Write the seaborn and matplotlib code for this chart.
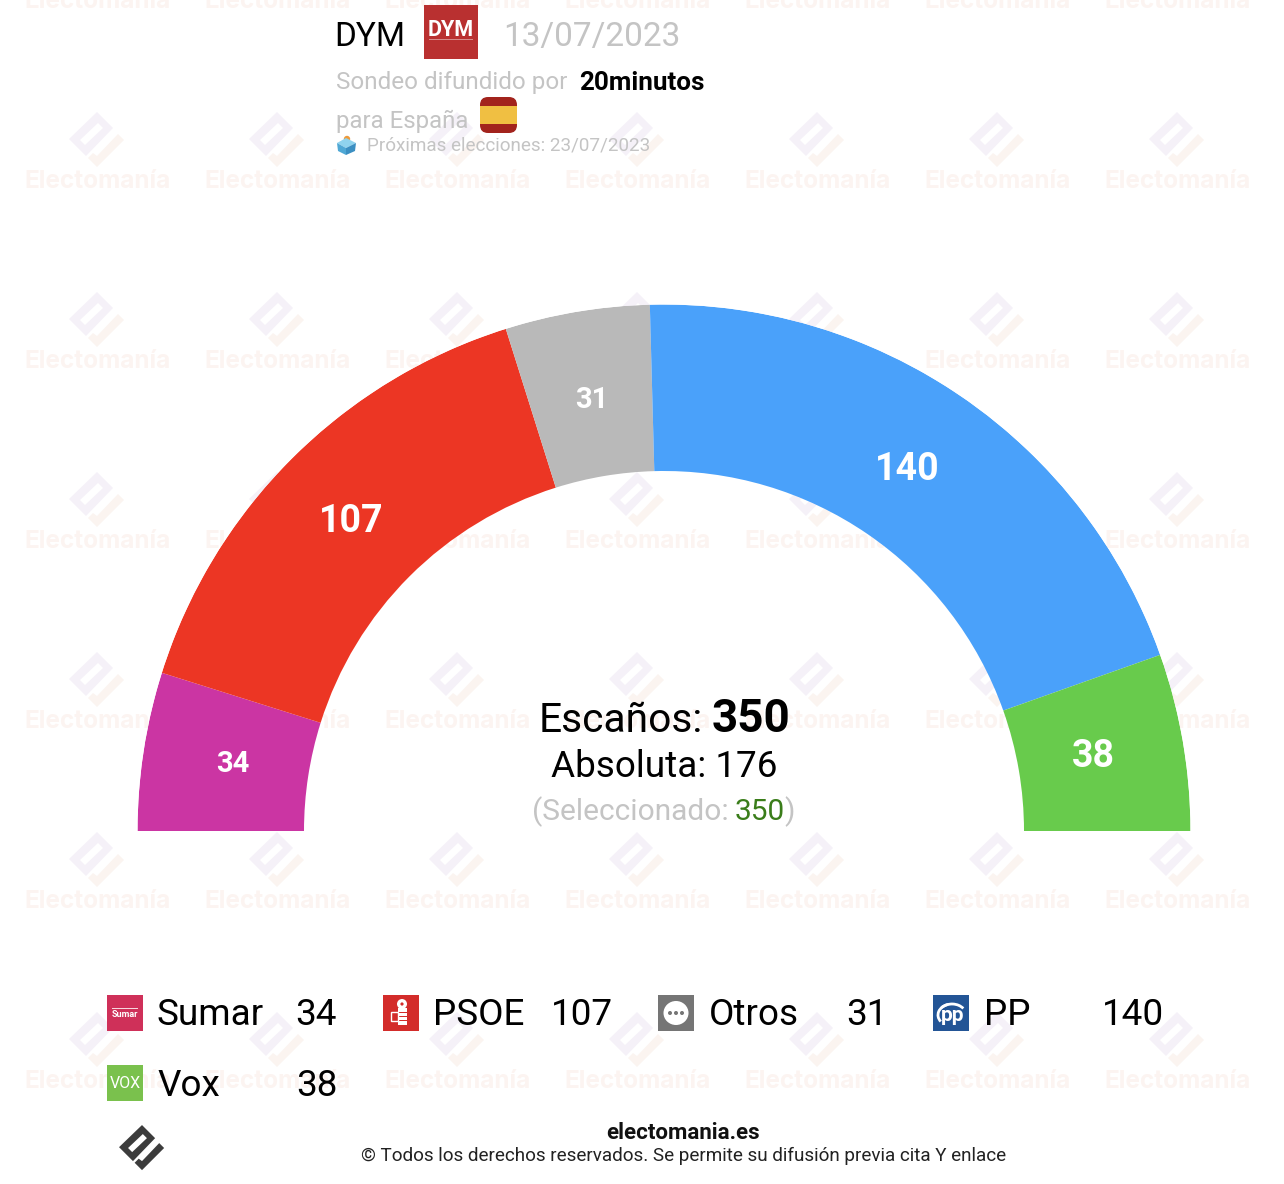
import numpy as np
import matplotlib
matplotlib.use("Agg")
import matplotlib.pyplot as plt
from matplotlib.patches import Polygon, Rectangle, Circle, FancyBboxPatch, Ellipse, Arc
import seaborn as sns

# ---- data ----
parties = ["Sumar", "PSOE", "Otros", "PP", "Vox"]
seats = [34, 107, 31, 140, 38]
seat_colors = ["#CB35A3", "#EC3624", "#B9B9B9", "#4AA1FA", "#68CB4C"]
icon_colors = ["#CF3059", "#D32C2A", "#757575", "#235596", "#7AC14D"]
total_seats = 350
majority = 176
selected = 350
pollster = "DYM"
poll_date = "13/07/2023"
media = "20minutos"
next_election = "23/07/2023"

sns.set_theme(style="white", font="Roboto")
plt.rcParams["font.family"] = ["Roboto", "DejaVu Sans"]
palette = sns.color_palette(seat_colors)

W, H = 1284, 1184
fig = plt.figure(figsize=(W / 100, H / 100), dpi=100, facecolor="white")


def pixel_axes(z):
    a = fig.add_axes([0, 0, 1, 1], zorder=z)
    a.set_xlim(0, W)
    a.set_ylim(H, 0)
    a.axis("off")
    a.patch.set_alpha(0)
    return a


bg = pixel_axes(0)
top = pixel_axes(2)

# ---- logo shape (rotated document + check mark), relative to its centre ----
DOC = np.array([[0, -28], [16, -12], [-11, 16], [-28, -1]], float)
SLOT = np.array([[1, -17], [6, -12], [-12, 5], [-17, 0]], float)
CHECK = np.array([[21, -6], [27, 0], [0, 27], [-9, 18], [-4, 13], [0, 16]], float)


def logo(a, cx, cy, s, c_doc, c_check, z=1):
    a.add_patch(Polygon(DOC * s + (cx, cy), fc=c_doc, ec="none", zorder=z))
    a.add_patch(Polygon(SLOT * s + (cx, cy), fc="white", ec="none", zorder=z))
    a.add_patch(Polygon(CHECK * s + (cx, cy), fc=c_check, ec="none", zorder=z))


# ---- watermark ----
for wx in range(97, 1284, 180):
    for wy in range(0, 1184, 180):
        logo(bg, wx, wy - 40, 1, "#F5F1F8", "#FBF4F0")
        bg.text(wx, wy + 2, "Electomanía", fontsize=17.5, family="Inter", weight="bold",
                color="#FCF4F1", ha="center", va="center")

# ---- hemicycle ----
ax = fig.add_axes([137.5 / W, (H - 1357.5) / H, 1053 / W, 1053 / H], polar=True, zorder=1)
ax.patch.set_alpha(0)
ax.set_theta_zero_location("W")
ax.set_theta_direction(-1)
ax.set_ylim(0, 526.5)
ax.grid(False)
ax.set_xticks([])
ax.set_yticks([])
ax.spines["polar"].set_visible(False)

edges = np.cumsum([0] + seats) / total_seats * np.pi
label_sizes = [21, 27, 21, 27, 27]
label_shift = [(2, 0), (-3, 0), (0, -1), (-5, 0), (-2, 0)]
for i, v in enumerate(seats):
    ax.bar(edges[i], 166.5, width=edges[i + 1] - edges[i], bottom=360, align="edge",
           color=palette[i], linewidth=0)
    ax.annotate(str(v), ((edges[i] + edges[i + 1]) / 2, 438),
                xytext=(label_shift[i][0] * 0.72, label_shift[i][1] * 0.72),
                textcoords="offset points", color="white", weight="bold",
                fontsize=label_sizes[i], ha="center", va="center")

# ---- header ----
GREY = "#C4C4C4"
top.text(334, 37, pollster, fontsize=24, color="black", va="center")
top.add_patch(Rectangle((424, 5), 54, 54, fc="#B93030", ec="none"))
top.text(451, 30, pollster, fontsize=15.5, weight="bold", color="white", ha="center", va="center")
top.add_patch(Rectangle((429, 39), 44, 1.2, fc="#D88A8A", ec="none"))
top.text(503, 37, poll_date, fontsize=24, color=GREY, va="center")
top.text(336, 83, "Sondeo difundido por", fontsize=17.5, color=GREY, va="center")
top.text(579.5, 83, media, fontsize=18.7, weight="bold", color="black", va="center")
top.text(336, 121, "para España", fontsize=17.3, color=GREY, va="center")
top.add_patch(FancyBboxPatch((484, 101), 29, 28, boxstyle="round,pad=4,rounding_size=8",
                             fc="#A2231D", ec="none"))
top.add_patch(Rectangle((480, 106), 37, 18, fc="#F0BF42", ec="none"))
top.add_patch(Circle((347, 139), 3.2, fc="#EE9A3A", ec="none"))
top.add_patch(Polygon([[337, 143], [346, 138], [356, 143], [346, 148]], fc="#8FD3EE", ec="none"))
top.add_patch(Polygon([[337, 143], [346, 148], [346, 155], [338, 151]], fc="#4FA8D5", ec="none"))
top.add_patch(Polygon([[346, 148], [356, 143], [355, 151], [346, 155]], fc="#3B8FC2", ec="none"))
top.text(367, 145.5, f"Próximas elecciones: {next_election}", fontsize=13.6, color=GREY, va="center")

# ---- centre ----
top.text(538.5, 720, "Escaños:", fontsize=29.3, color="black", va="center")
top.text(711.5, 719, str(total_seats), fontsize=33, weight="bold", color="black", va="center")
top.text(664, 767, f"Absoluta: {majority}", fontsize=26.6, color="black", ha="center", va="center")
top.text(532, 812, "(Seleccionado:", fontsize=21.5, color=GREY, va="center")
top.text(735, 812, str(selected), fontsize=21.5, color="#3A7D1A", va="center")
top.text(784, 812, ")", fontsize=21.5, color=GREY, va="center")

# ---- legend ----
icon_x = [107, 383, 658, 933, 107]
name_x = [157, 433, 708.5, 984, 157]
val_x = [295.5, 551, 846.5, 1101.5, 296]
row_y = [1013, 1013, 1013, 1013, 1083]
for i, p in enumerate(parties):
    y = row_y[i]
    x0 = icon_x[i]
    top.add_patch(Rectangle((x0, y - 18), 36, 36, fc=icon_colors[i], ec="none"))
    top.text(name_x[i], y + 2 + (i == 4), p, fontsize=26.6, color="black", va="center")
    top.text(val_x[i], y + 2 + (i == 4), str(seats[i]), fontsize=26.6, color="black", va="center")
    cx, cy = x0 + 18, y
    if p == "Sumar":
        top.add_patch(Rectangle((cx - 13, cy - 5), 26, 1, fc="#F6D5DD", ec="none"))
        top.text(cx, cy + 1.5, "Sumar", fontsize=6.5, weight="bold", color="white", ha="center", va="center")
    elif p == "PSOE":
        top.add_patch(Circle((cx + 1, cy - 9), 5, fc="white", ec="none"))
        top.add_patch(Circle((cx + 1, cy - 9), 1.6, fc="#D32C2A", ec="none"))
        top.add_patch(Rectangle((cx - 3, cy - 5), 9, 17, fc="white", ec="none"))
        for dy in (-1, 3, 7):
            top.add_patch(Rectangle((cx - 3, cy + dy), 9, 0.8, fc="#D32C2A", ec="none"))
        top.add_patch(Rectangle((cx - 10, cy - 1), 7, 9, fc="#D32C2A", ec="white", lw=1))
    elif p == "Otros":
        top.add_patch(Ellipse((cx, cy), 25, 24, fc="white", ec="none"))
        for dx in (-6, 0, 6):
            top.add_patch(Circle((cx + dx, cy), 2, fc="#757575", ec="none"))
    elif p == "PP":
        top.text(cx + 2, cy + 2.5, "pp", fontsize=15, weight="bold", color="white", ha="center", va="center")
        top.add_patch(Arc((cx + 1, cy + 2), 28, 22, theta1=150, theta2=250, ec="white", lw=2))
        top.add_patch(Arc((cx + 1, cy + 2), 28, 22, theta1=215, theta2=330, ec="white", lw=2))
    elif p == "Vox":
        top.text(cx, cy, "VOX", fontsize=11.5, color="white", ha="center", va="center", stretch="condensed")

# ---- footer ----
logo(top, 142, 1148, 0.82, "#3C3C3C", "#3C3C3C")
top.text(683, 1133, "electomania.es", fontsize=16, weight="bold", color="#111111", ha="center", va="center")
top.text(683.5, 1156, "© Todos los derechos reservados. Se permite su difusión previa cita Y enlace",
         fontsize=13.6, color="#222222", ha="center", va="center")

fig.savefig("out.png", dpi=100, facecolor="white")
